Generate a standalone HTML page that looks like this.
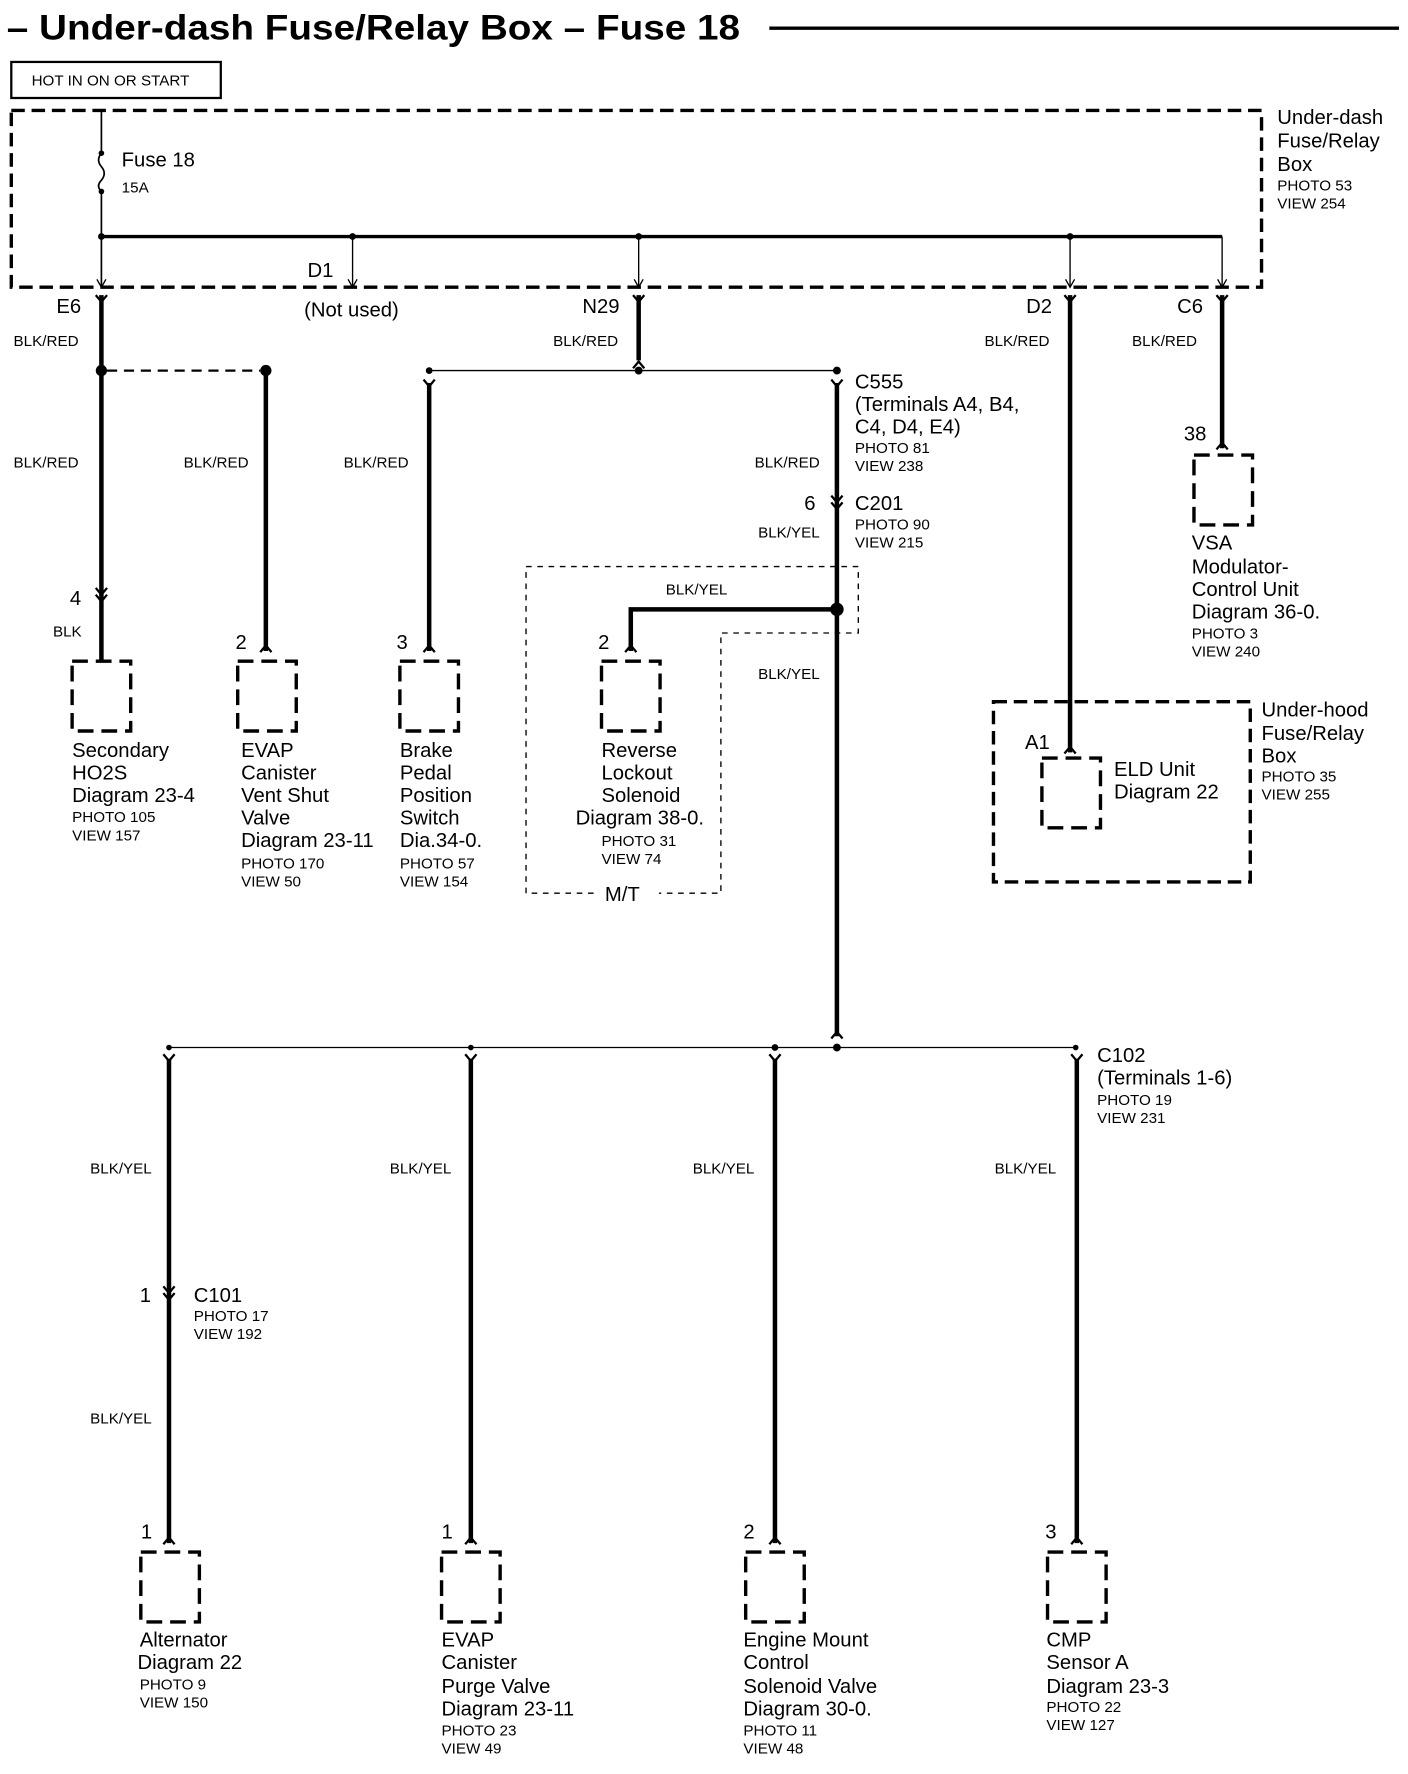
<!DOCTYPE html>
<html><head><meta charset="utf-8"><style>
html,body{margin:0;padding:0;background:#fff}
svg{display:block}
text{font-family:"Liberation Sans",Arial,sans-serif;fill:#000}
.b{font-size:18px}
.s{font-size:13.5px}
</style></head><body>
<svg width="1408" height="1774" viewBox="0 0 1250 1575" xmlns="http://www.w3.org/2000/svg">
<defs>
<g id="y"><polyline points="-5,-6 0,0 5,-6" fill="none" stroke="#000" stroke-width="2"/></g>
<g id="f"><polyline points="-5,7 0,1 5,7" fill="none" stroke="#000" stroke-width="2"/></g>
<rect id="box" x="-26" y="0" width="52" height="62" fill="none" stroke="#000" stroke-width="3" stroke-dasharray="14,7"/>
</defs>
<!-- title -->
<text x="6" y="35" style="font-size:31px;font-weight:bold" textLength="651" lengthAdjust="spacingAndGlyphs">– Under-dash Fuse/Relay Box – Fuse 18</text>
<line x1="683" y1="25" x2="1242" y2="25" stroke="#000" stroke-width="3"/>
<rect x="10" y="55" width="186" height="32" fill="none" stroke="#000" stroke-width="2"/>
<text x="28" y="76" class="s">HOT IN ON OR START</text>
<!-- main dashed box -->
<rect x="10" y="98" width="1110" height="157" fill="none" stroke="#000" stroke-width="3" stroke-dasharray="12,6"/>
<text x="1134" y="110" class="b">Under-dash</text>
<text x="1134" y="131" class="b">Fuse/Relay</text>
<text x="1134" y="152" class="b">Box</text>
<text x="1134" y="169" class="s">PHOTO 53</text>
<text x="1134" y="185" class="s">VIEW 254</text>
<!-- fuse -->
<line x1="90" y1="98" x2="90" y2="134" stroke="#000" stroke-width="1.5"/>
<path d="M90,136 q-5,6 0,12 q5,6 0,12 q-5,5 0,10" fill="none" stroke="#000" stroke-width="1.5"/>
<circle cx="90" cy="136" r="2.5"/><circle cx="90" cy="170" r="2.5"/>
<line x1="90" y1="170" x2="90" y2="255" stroke="#000" stroke-width="1.5"/>
<text x="108" y="148" class="b">Fuse 18</text>
<text x="108" y="171" class="s">15A</text>
<line x1="90" y1="210" x2="1085" y2="210" stroke="#000" stroke-width="3"/>
<circle cx="90" cy="210" r="3"/><circle cx="313" cy="210" r="3"/><circle cx="567" cy="210" r="3"/><circle cx="950" cy="210" r="3"/>
<g stroke="#000" stroke-width="1.2" fill="none">
<line x1="313" y1="210" x2="313" y2="255"/><line x1="567" y1="210" x2="567" y2="255"/><line x1="950" y1="210" x2="950" y2="255"/><line x1="1085" y1="210" x2="1085" y2="255"/>
<polyline points="86,248 90,255 94,248"/><polyline points="309,248 313,255 317,248"/><polyline points="563,248 567,255 571,248"/><polyline points="946,248 950,255 954,248"/><polyline points="1081,248 1085,255 1089,248"/>
</g>
<text x="273" y="246" class="b">D1</text>
<text x="270" y="281" class="b">(Not used)</text>
<text x="50" y="278" class="b">E6</text>
<text x="517" y="278" class="b">N29</text>
<text x="911" y="278" class="b">D2</text>
<text x="1045" y="278" class="b">C6</text>
<!-- thick wires -->
<g stroke="#000" stroke-width="4" fill="none">
<line x1="90" y1="262" x2="90" y2="587"/>
<line x1="236" y1="329" x2="236" y2="578"/>
<line x1="381" y1="340" x2="381" y2="578"/>
<line x1="567" y1="262" x2="567" y2="320"/>
<line x1="743" y1="340" x2="743" y2="920"/>
<polyline points="743,541 560,541 560,578"/>
<line x1="950" y1="262" x2="950" y2="668"/>
<line x1="1085" y1="262" x2="1085" y2="398"/>
<line x1="150" y1="940" x2="150" y2="1370"/>
<line x1="418" y1="940" x2="418" y2="1370"/>
<line x1="688" y1="940" x2="688" y2="1370"/>
<line x1="956" y1="940" x2="956" y2="1370"/>
</g>
<use href="#y" x="90" y="268"/><use href="#y" x="567" y="268"/><use href="#y" x="950" y="268"/><use href="#y" x="1085" y="268"/>
<text x="12" y="307" class="s">BLK/RED</text>
<text x="491" y="307" class="s">BLK/RED</text>
<text x="874" y="307" class="s">BLK/RED</text>
<text x="1005" y="307" class="s">BLK/RED</text>
<!-- E6 split -->
<circle cx="90" cy="329" r="5"/><circle cx="236" cy="329" r="5"/>
<line x1="95" y1="329" x2="231" y2="329" stroke="#000" stroke-width="2" stroke-dasharray="9,6"/>
<!-- N29 split -->
<use href="#f" x="567" y="320"/>
<line x1="381" y1="329" x2="743" y2="329" stroke="#000" stroke-width="1.2"/>
<circle cx="381" cy="329" r="3"/><circle cx="567" cy="329" r="3.5"/><circle cx="743" cy="329" r="3.5"/>
<use href="#y" x="381" y="343"/><use href="#y" x="743" y="343"/>
<text x="12" y="415" class="s">BLK/RED</text>
<text x="163" y="415" class="s">BLK/RED</text>
<text x="305" y="415" class="s">BLK/RED</text>
<text x="670" y="415" class="s">BLK/RED</text>
<text x="759" y="345" class="b">C555</text>
<text x="759" y="365" class="b">(Terminals A4, B4,</text>
<text x="759" y="385" class="b">C4, D4, E4)</text>
<text x="759" y="402" class="s">PHOTO 81</text>
<text x="759" y="418" class="s">VIEW 238</text>
<use href="#y" x="743" y="446"/><use href="#y" x="743" y="452"/>
<text x="714" y="453" class="b">6</text>
<text x="759" y="453" class="b">C201</text>
<text x="759" y="470" class="s">PHOTO 90</text>
<text x="759" y="486" class="s">VIEW 215</text>
<text x="673" y="477" class="s">BLK/YEL</text>
<text x="591" y="528" class="s">BLK/YEL</text>
<text x="673" y="603" class="s">BLK/YEL</text>
<circle cx="743" cy="541" r="6"/>
<path d="M467,793 V503 H762 V562 H640 V793 H585 M527,793 H467" fill="none" stroke="#000" stroke-width="1.2" stroke-dasharray="5,5"/>
<text x="537" y="800" class="b">M/T</text>
<!-- E6 connector 4 -->
<use href="#y" x="90" y="528"/><use href="#y" x="90" y="534"/>
<text x="62" y="537" class="b">4</text>
<text x="47" y="565" class="s">BLK</text>
<use href="#f" x="236" y="572"/><use href="#f" x="381" y="572"/><use href="#f" x="560" y="572"/>
<text x="209" y="576" class="b">2</text><text x="352" y="576" class="b">3</text><text x="531" y="576" class="b">2</text>
<use href="#box" x="90" y="587"/><use href="#box" x="237" y="587"/><use href="#box" x="381" y="587"/><use href="#box" x="560" y="587"/>
<text x="64" y="672" class="b">Secondary</text><text x="64" y="692" class="b">HO2S</text><text x="64" y="712" class="b">Diagram 23-4</text>
<text x="64" y="730" class="s">PHOTO 105</text><text x="64" y="746" class="s">VIEW 157</text>
<text x="214" y="672" class="b">EVAP</text><text x="214" y="692" class="b">Canister</text><text x="214" y="712" class="b">Vent Shut</text><text x="214" y="732" class="b">Valve</text><text x="214" y="752" class="b">Diagram 23-11</text>
<text x="214" y="771" class="s">PHOTO 170</text><text x="214" y="787" class="s">VIEW 50</text>
<text x="355" y="672" class="b">Brake</text><text x="355" y="692" class="b">Pedal</text><text x="355" y="712" class="b">Position</text><text x="355" y="732" class="b">Switch</text><text x="355" y="752" class="b"> Dia.34-0.</text>
<text x="355" y="771" class="s">PHOTO 57</text><text x="355" y="787" class="s">VIEW 154</text>
<text x="534" y="672" class="b">Reverse</text><text x="534" y="692" class="b">Lockout</text><text x="534" y="712" class="b">Solenoid</text><text x="511" y="732" class="b">Diagram 38-0.</text>
<text x="534" y="751" class="s">PHOTO 31</text><text x="534" y="767" class="s">VIEW 74</text>
<!-- D2 / ELD -->
<rect x="882" y="623" width="228" height="160" fill="none" stroke="#000" stroke-width="3" stroke-dasharray="12,6"/>
<use href="#f" x="950" y="662"/>
<text x="910" y="665" class="b">A1</text>
<use href="#box" x="951" y="673"/>
<text x="989" y="689" class="b">ELD Unit</text><text x="989" y="709" class="b">Diagram 22</text>
<text x="1120" y="636" class="b">Under-hood</text><text x="1120" y="657" class="b">Fuse/Relay</text><text x="1120" y="677" class="b">Box</text>
<text x="1120" y="694" class="s">PHOTO 35</text><text x="1120" y="710" class="s">VIEW 255</text>
<!-- C6 / VSA -->
<use href="#f" x="1085" y="392"/>
<text x="1051" y="391" class="b">38</text>
<use href="#box" x="1086" y="404"/>
<text x="1058" y="488" class="b">VSA</text><text x="1058" y="509" class="b">Modulator-</text><text x="1058" y="529" class="b">Control Unit</text><text x="1058" y="549" class="b">Diagram 36-0.</text>
<text x="1058" y="567" class="s">PHOTO 3</text><text x="1058" y="583" class="s">VIEW 240</text>
<!-- C102 bus -->
<use href="#f" x="743" y="915"/>
<line x1="150" y1="930" x2="955" y2="930" stroke="#000" stroke-width="1.2"/>
<circle cx="743" cy="930" r="3.5"/><circle cx="150" cy="930" r="2.5"/><circle cx="418" cy="930" r="2.5"/><circle cx="688" cy="930" r="3"/><circle cx="955" cy="930" r="2.5"/>
<use href="#y" x="150" y="942"/><use href="#y" x="418" y="942"/><use href="#y" x="688" y="942"/><use href="#y" x="956" y="942"/>
<text x="974" y="943" class="b">C102</text><text x="974" y="963" class="b">(Terminals 1-6)</text>
<text x="974" y="981" class="s">PHOTO 19</text><text x="974" y="997" class="s">VIEW 231</text>
<text x="80" y="1042" class="s">BLK/YEL</text><text x="346" y="1042" class="s">BLK/YEL</text><text x="615" y="1042" class="s">BLK/YEL</text><text x="883" y="1042" class="s">BLK/YEL</text>
<use href="#y" x="150" y="1148"/><use href="#y" x="150" y="1154"/>
<text x="124" y="1156" class="b">1</text><text x="172" y="1156" class="b">C101</text>
<text x="172" y="1173" class="s">PHOTO 17</text><text x="172" y="1189" class="s">VIEW 192</text>
<text x="80" y="1264" class="s">BLK/YEL</text>
<use href="#f" x="150" y="1364"/><use href="#f" x="418" y="1364"/><use href="#f" x="688" y="1364"/><use href="#f" x="956" y="1364"/>
<text x="125" y="1366" class="b">1</text><text x="392" y="1366" class="b">1</text><text x="660" y="1366" class="b">2</text><text x="928" y="1366" class="b">3</text>
<use href="#box" x="151" y="1378"/><use href="#box" x="418" y="1378"/><use href="#box" x="688" y="1378"/><use href="#box" x="956" y="1378"/>
<text x="124" y="1462" class="b">Alternator</text><text x="122" y="1482" class="b">Diagram  22</text>
<text x="124" y="1500" class="s">PHOTO 9</text><text x="124" y="1516" class="s">VIEW 150</text>
<text x="392" y="1462" class="b">EVAP</text><text x="392" y="1482" class="b">Canister</text><text x="392" y="1503" class="b">Purge Valve</text><text x="392" y="1523" class="b">Diagram 23-11</text>
<text x="392" y="1541" class="s">PHOTO 23</text><text x="392" y="1557" class="s">VIEW 49</text>
<text x="660" y="1462" class="b">Engine Mount</text><text x="660" y="1482" class="b">Control</text><text x="660" y="1503" class="b">Solenoid Valve</text><text x="660" y="1523" class="b">Diagram 30-0.</text>
<text x="660" y="1541" class="s">PHOTO 11</text><text x="660" y="1557" class="s">VIEW 48</text>
<text x="929" y="1462" class="b">CMP</text><text x="929" y="1482" class="b">Sensor A</text><text x="929" y="1503" class="b">Diagram 23-3</text>
<text x="929" y="1520" class="s">PHOTO 22</text><text x="929" y="1536" class="s">VIEW 127</text>
</svg>
</body></html>
